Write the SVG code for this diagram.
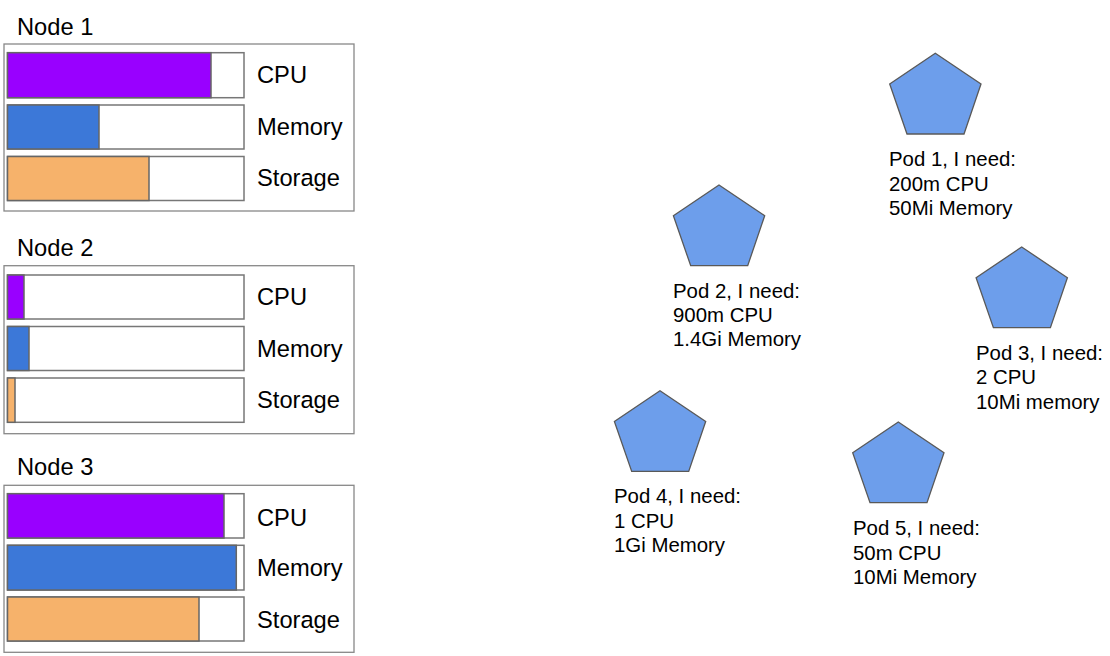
<svg xmlns="http://www.w3.org/2000/svg" xmlns:xlink="http://www.w3.org/1999/xlink" width="1110" height="656" viewBox="0 0 1110 656">
<style>
text{font-family:"Liberation Sans",Arial,sans-serif;fill:#000}
.title,.lbl{font-size:23.7px}
.pod{font-size:20.4px}
.box{fill:#fff;stroke:#888;stroke-width:1.3}
.bar{fill:#fff;stroke:#777;stroke-width:1.5}
.cpu{fill:#9900ff;stroke:#666;stroke-width:1.5}
.mem{fill:#3c78d8;stroke:#666;stroke-width:1.5}
.sto{fill:#f6b26b;stroke:#666;stroke-width:1.5}
.pent{fill:#6d9eeb;stroke:#595959;stroke-width:1.3}
</style>
<defs>
<path id="pentagon" d="M0,0 L45.7,30.7 L28.7,80.7 L-28.3,80.7 L-45.6,30.7 Z"/>
</defs>
<rect width="1110" height="656" fill="#fff"/>
<g id="node1">
<text class="title" x="17" y="35">Node 1</text>
<rect class="box" x="4" y="44" width="350" height="167"/>
<rect class="bar" x="7.5" y="52.7" width="236.5" height="45"/>
<rect class="cpu" x="7.5" y="52.7" width="203.5" height="45"/>
<rect class="bar" x="7.5" y="105" width="236.5" height="44"/>
<rect class="mem" x="7.5" y="105" width="91.5" height="44"/>
<rect class="bar" x="7.5" y="156.5" width="236.5" height="44"/>
<rect class="sto" x="7.5" y="156.5" width="141.5" height="44"/>
<text class="lbl" x="257" y="83">CPU</text>
<text class="lbl" x="257" y="134.5">Memory</text>
<text class="lbl" x="257" y="186">Storage</text>
</g>
<g id="node2">
<text class="title" x="17" y="256">Node 2</text>
<rect class="box" x="4" y="265.7" width="350" height="168"/>
<rect class="bar" x="7.5" y="275" width="236.5" height="44"/>
<rect class="cpu" x="7.5" y="275" width="16.5" height="44"/>
<rect class="bar" x="7.5" y="326.5" width="236.5" height="44"/>
<rect class="mem" x="7.5" y="326.5" width="21.5" height="44"/>
<rect class="bar" x="7.5" y="378" width="236.5" height="44.3"/>
<rect class="sto" x="7.5" y="378" width="7.5" height="44.3"/>
<text class="lbl" x="257" y="305">CPU</text>
<text class="lbl" x="257" y="356.5">Memory</text>
<text class="lbl" x="257" y="408">Storage</text>
</g>
<g id="node3">
<text class="title" x="17" y="475">Node 3</text>
<rect class="box" x="4" y="485.3" width="350" height="167"/>
<rect class="bar" x="7.5" y="493.7" width="236.5" height="44.3"/>
<rect class="cpu" x="7.5" y="493.7" width="216.5" height="44.3"/>
<rect class="bar" x="7.5" y="545.3" width="236.5" height="44.7"/>
<rect class="mem" x="7.5" y="545.3" width="228.8" height="44.7"/>
<rect class="bar" x="7.5" y="597" width="236.5" height="44"/>
<rect class="sto" x="7.5" y="597" width="191.5" height="44"/>
<text class="lbl" x="257" y="525.5">CPU</text>
<text class="lbl" x="257" y="576">Memory</text>
<text class="lbl" x="257" y="628">Storage</text>
</g>
<g id="pod1">
<use xlink:href="#pentagon" href="#pentagon" class="pent" x="935.3" y="53.3"/>
<text class="pod" x="889" y="166">Pod 1, I need:</text>
<text class="pod" x="889" y="190.5">200m CPU</text>
<text class="pod" x="889" y="215">50Mi Memory</text>
</g>
<g id="pod2">
<use xlink:href="#pentagon" href="#pentagon" class="pent" x="719" y="185"/>
<text class="pod" x="673" y="297.7">Pod 2, I need:</text>
<text class="pod" x="673" y="322">900m CPU</text>
<text class="pod" x="673" y="346.3">1.4Gi Memory</text>
</g>
<g id="pod3">
<use xlink:href="#pentagon" href="#pentagon" class="pent" x="1021.7" y="247"/>
<text class="pod" x="976" y="359.5">Pod 3, I need:</text>
<text class="pod" x="976" y="384">2 CPU</text>
<text class="pod" x="976" y="408.5">10Mi memory</text>
</g>
<g id="pod4">
<use xlink:href="#pentagon" href="#pentagon" class="pent" x="660" y="390.7"/>
<text class="pod" x="614" y="503.3">Pod 4, I need:</text>
<text class="pod" x="614" y="527.7">1 CPU</text>
<text class="pod" x="614" y="552.3">1Gi Memory</text>
</g>
<g id="pod5">
<use xlink:href="#pentagon" href="#pentagon" class="pent" x="898.3" y="422"/>
<text class="pod" x="853" y="535">Pod 5, I need:</text>
<text class="pod" x="853" y="559.5">50m CPU</text>
<text class="pod" x="853" y="584">10Mi Memory</text>
</g>
<g id="connectors"></g>
</svg>
